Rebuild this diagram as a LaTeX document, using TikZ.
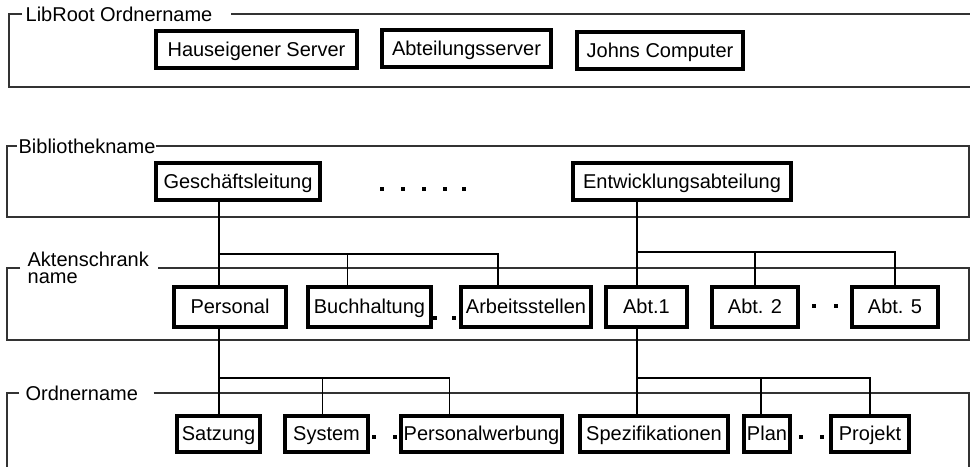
\documentclass[tikz,border=0pt]{standalone}
\usepackage{fontspec}
\setmainfont{Liberation Sans}
\usepackage{tikz}

\begin{document}
\begin{tikzpicture}[x=1pt,y=-1pt,line width=1.3pt,
    font=\fontsize{20}{22}\selectfont,
    box/.style={draw=black,line width=3.2pt,fill=white,inner sep=0pt,text height=14.5pt,text depth=1.5pt},
    frame/.style={draw=black!80,line width=1.3pt},
    flabel/.style={anchor=west,inner sep=0pt}]
        \useasboundingbox (0,0) rectangle (970,467);
        \node[flabel] (lr) at (25,14) {LibRoot Ordnername};
        \draw[frame] ([xshift=-3]lr.west) -- (9,14) -- (9,87) -- (970,87);
        \draw[frame] ([xshift=18]lr.east) -- (970,14);
        \node[flabel] (bib) at (18,146) {Bibliothekname};
        \draw[frame] ([xshift=-1]bib.west) -- (7,146) -- (7,217) -- (969,217) -- (969,146) -- (bib.east);
        \node[anchor=base west,inner sep=0pt] (ak) at (27,266) {Aktenschrank};
        \node[anchor=base west,inner sep=0pt] (akn) at (27,283) {name};
        \draw[frame] (20,268) -- (7,268) -- (7,340) -- (969,340) -- (969,268) -- (158,268);
        \node[flabel] (ord) at (25,393) {Ordnername};
        \draw[frame] ([xshift=-6]ord.west) -- (7,393) -- (7,467);
        \draw[frame] ([xshift=15]ord.east) -- (969,393) -- (969,467);
        \node[box,minimum width=201pt,minimum height=37pt] (hs) at (256.5,49.5) {Hauseigener Server};
        \node[box,minimum width=169pt,minimum height=37pt] (as) at (466.5,48.5) {Abteilungsserver};
        \node[box,minimum width=166pt,minimum height=37pt] (jc) at (660,50.5) {Johns Computer};
        \node[box,minimum width=164pt,minimum height=37pt] (gl) at (238,181.5) {Geschäftsleitung};
        \node[box,minimum width=218pt,minimum height=37pt] (ent) at (682,181.5) {Entwicklungsabteilung};
        \node[box,minimum width=112pt,minimum height=40pt] (pers) at (230,307) {Personal};
        \node[box,minimum width=123pt,minimum height=40pt] (buch) at (369.5,307) {Buchhaltung};
        \node[box,minimum width=130pt,minimum height=40pt] (arb) at (526,307) {Arbeitsstellen};
        \node[box,minimum width=81pt,minimum height=40pt] (abt1) at (646.5,307) {Abt.1};
        \node[box,minimum width=86pt,minimum height=40pt] (abt2) at (755,307) {Abt. 2};
        \node[box,minimum width=86pt,minimum height=40pt] (abt5) at (895,307) {Abt. 5};
        \node[box,minimum width=83pt,minimum height=36pt] (sat) at (218.5,434) {Satzung};
        \node[box,minimum width=83pt,minimum height=36pt] (sys) at (326.5,434) {System};
        \node[box,minimum width=161pt,minimum height=36pt] (pw) at (481.5,434) {Personalwerbung};
        \node[box,minimum width=148pt,minimum height=36pt] (spez) at (654,434) {Spezifikationen};
        \node[box,minimum width=46pt,minimum height=36pt] (plan) at (767,434) {Plan};
        \node[box,minimum width=78pt,minimum height=36pt] (proj) at (870,434) {Projekt};
        \coordinate (bl1) at (219,254);
        \coordinate (br1) at (637,252);
        \coordinate (bl2) at (219,378);
        \coordinate (br2) at (637,378);
        \draw (gl.south -| bl1) -- (pers.north -| bl1);
        \draw (pers.south -| bl1) -- (sat.north -| bl1);
        \draw (bl1) -| ([xshift=-28]arb.north);
        \draw ([xshift=-22]buch.north) |- (bl1);
        \draw (ent.south -| br1) -- (abt1.north -| br1);
        \draw (abt1.south -| br1) -- (spez.north -| br1);
        \draw (br1) -| (abt5.north);
        \draw (abt2.north) |- (br1);
        \draw (bl2) -| ([xshift=-32]pw.north);
        \draw ([xshift=-4]sys.north) |- (bl2);
        \draw (br2) -| (proj.north);
        \draw ([xshift=-6]plan.north) |- (br2);
        \foreach \x/\y in {382/189,403/189,424/189,445/189,464/189,435/318,454/318,814/306,836/306,374/437,395/437,801/437,822/437}
            \fill (\x-2,\y-2) rectangle (\x+2,\y+2);
    \end{tikzpicture}
\end{document}
